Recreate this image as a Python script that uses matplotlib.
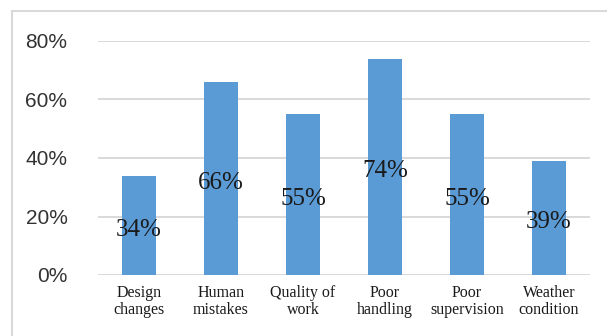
import matplotlib
matplotlib.use("Agg")
import matplotlib.pyplot as plt
from matplotlib.lines import Line2D

categories = ["Design\nchanges", "Human\nmistakes", "Quality of\nwork", "Poor\nhandling",
              "Poor\nsupervision", "Weather\ncondition"]
values = [34, 66, 55, 74, 55, 39]
yticks = [0, 20, 40, 60, 80]

fig = plt.figure(figsize=(6.07, 3.36), dpi=100)
ax = fig.add_axes([98 / 607, 1 - 275 / 336, 492 / 607, (275 - 41) / 336])

x = range(len(categories))
ax.bar(x, values, width=0.41, color="#5B9BD5", zorder=2)
for i, v in zip(x, values):
    ax.text(i, v / 2 - 1.5, f"{v}%", ha="center", va="center", fontsize=18,
            family="Liberation Serif", color="#1a1a1a", zorder=3)

ax.set_xlim(-0.5, len(categories) - 0.5)
ax.set_ylim(0, 80)
ax.set_yticks(yticks)
ax.set_yticklabels([f"{t}%" for t in yticks], family="Liberation Sans", fontsize=15,
                   color="#333333")
ax.set_xticks(list(x))
ax.set_xticklabels(categories, family="Liberation Serif", fontsize=11.5, color="#1a1a1a",
                   linespacing=1.1)
ax.tick_params(length=0)
ax.tick_params(axis="y", pad=22)
ax.tick_params(axis="x", pad=7)
ax.grid(axis="y", color="#D9D9D9", linewidth=1.4, zorder=0)
ax.set_axisbelow(True)
for s in ax.spines.values():
    s.set_visible(False)

# outer chart frame: only the left and top edges fall inside the crop
fx, fy = 12.5 / 607, 1 - 10.5 / 336
fig.add_artist(Line2D([fx, fx], [0, fy], transform=fig.transFigure,
                      color="#D9D9D9", linewidth=1.5))
fig.add_artist(Line2D([fx, 1], [fy, fy], transform=fig.transFigure,
                      color="#D9D9D9", linewidth=1.5))

fig.savefig("out.png", dpi=100)
